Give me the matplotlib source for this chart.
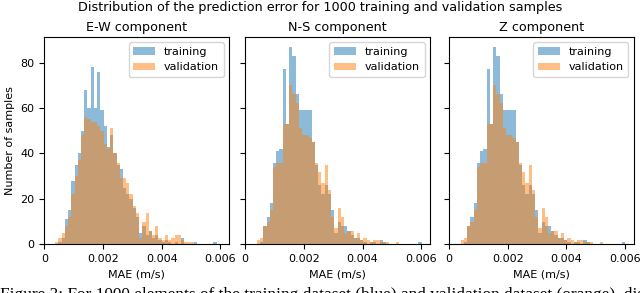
import numpy as np
import matplotlib
matplotlib.use('Agg')
import matplotlib.pyplot as plt

# histogram counts, bins of equal width
bin_width = 0.00011
ew_first_edge = 0.00015
ns_first_edge = 0.00018

ew_train = [0, 0, 0, 1, 3, 11, 15, 28, 35, 40,
            50, 68, 60, 78, 60, 76, 59, 52, 43, 48,
            40, 35, 33, 25, 22, 20, 16, 12, 5, 8,
            4, 6, 3, 4, 2, 1, 2, 1, 0, 1,
            0, 3, 0, 0, 0, 1, 0, 0, 0, 0,
            0, 1]
ew_val = [0, 0, 1, 3, 5, 8, 12, 22, 30, 37,
          48, 56, 55, 54, 54, 52, 50, 44, 42, 51,
          40, 36, 29, 29, 27, 22, 17, 14, 3, 10,
          14, 6, 4, 8, 3, 2, 4, 2, 3, 4,
          4, 2, 1, 1, 1, 0]

ns_train = [0, 0, 0, 1, 8, 12, 18, 36, 41, 42,
            77, 53, 87, 83, 66, 59, 59, 59, 59, 45,
            35, 26, 22, 26, 22, 15, 5, 10, 8, 8,
            6, 4, 3, 3, 2, 1, 0, 1, 1, 0,
            2, 1, 0, 0, 0, 0, 0, 0, 0, 0,
            0, 0, 1]
ns_val = [0, 0, 2, 3, 8, 10, 15, 34, 36, 36,
          53, 53, 70, 66, 62, 51, 48, 48, 47, 45,
          36, 32, 27, 35, 24, 12, 7, 16, 12, 5,
          6, 6, 3, 5, 2, 3, 2, 1, 2, 2,
          1, 1, 1, 0, 0, 1, 0, 0]

# the Z panel shows the same histograms as N-S
z_train = list(ns_train)
z_val = list(ns_val)

titles = ['E-W component', 'N-S component', 'Z component']
first_edges = [ew_first_edge, ns_first_edge, ns_first_edge]
train_counts = [ew_train, ns_train, z_train]
val_counts = [ew_val, ns_val, z_val]
xticks = [0, 0.002, 0.004, 0.006]
xtick_labels = ['0', '0.002', '0.004', '0.006']

fig = plt.figure(figsize=(6.4, 2.93), dpi=100)
lefts = [0.0692, 0.383, 0.7016]
axes = []
for i in range(3):
    ax = fig.add_axes([lefts[i], 0.166, 0.289, 0.7085],
                      sharey=axes[0] if axes else None)
    for counts, lab in [(train_counts[i], 'training'), (val_counts[i], 'validation')]:
        edges = first_edges[i] + bin_width * np.arange(len(counts) + 1)
        centers = edges[:-1] + bin_width / 2
        ax.hist(centers, bins=edges, weights=counts, alpha=0.5, label=lab)
    ax.set_xlim(0, 0.0063)
    ax.set_xticks(xticks)
    ax.set_xticklabels(xtick_labels)
    ax.set_title(titles[i], fontsize=9.2, pad=4)
    ax.set_xlabel('MAE (m/s)', fontsize=8)
    ax.tick_params(labelsize=8)
    ax.legend(loc='upper right', fontsize=8)
    if i > 0:
        ax.tick_params(labelleft=False)
    axes.append(ax)

axes[0].set_ylabel('Number of samples', fontsize=8)
fig.suptitle('Distribution of the prediction error for 1000 training and validation samples',
             fontsize=9.2, y=0.976, va='center')

# caption of the paper, only its top shows at the bottom edge
fig.text(0.0, -0.022, 'Figure 3: For 1000 elements of the training dataset (blue) and '
         'validation dataset (orange), dis',
         family='Liberation Serif', fontsize=12.4, va='baseline')

fig.savefig('out.png', dpi=100)
